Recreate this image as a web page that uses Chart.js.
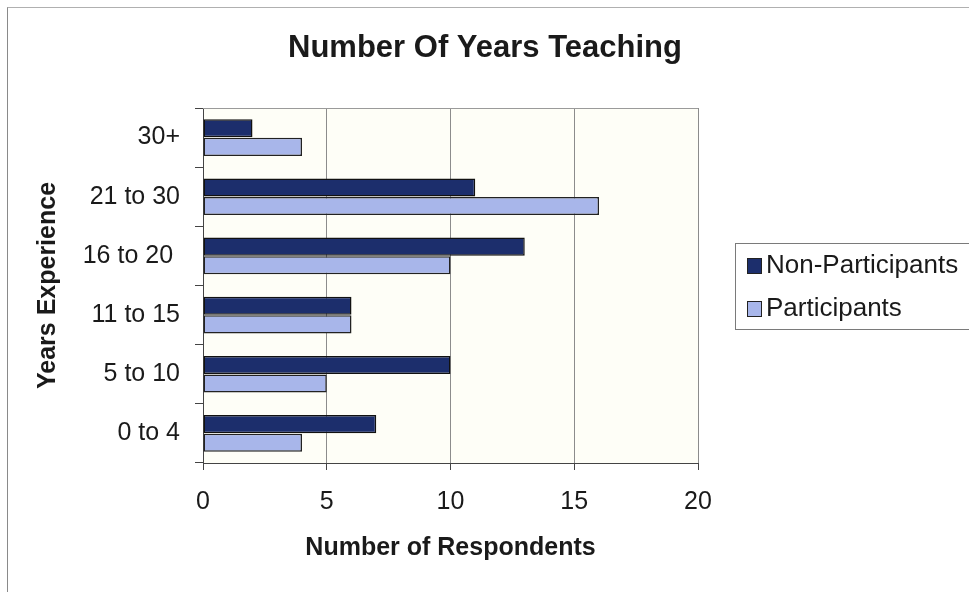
<!DOCTYPE html>
<html>
<head>
<meta charset="utf-8">
<title>Number Of Years Teaching</title>
<script src="https://cdn.jsdelivr.net/npm/chart.js@4/dist/chart.umd.min.js"></script>
<style>
  html, body { margin: 0; padding: 0; background: #fff; }
  .wrap { position: relative; width: 969px; height: 592px; overflow: hidden; }
  .frame {
    position: absolute; left: 7px; top: 7px; width: 1000px; height: 600px;
    border-left: 1px solid #8a8a8a; border-top: 1px solid #b0b0b0;
  }
  #chart { position: absolute; left: 0; top: 0; }
</style>
</head>
<body>
<div class="wrap">
  <div class="frame"></div>
  <canvas id="chart" width="969" height="592"></canvas>
</div>
<script>
const categories = ['30+', '21 to 30', '16 to 20 ', '11 to 15', '5 to 10', '0 to 4'];
const nonParticipants = [2, 11, 13, 6, 10, 7];
const participants = [4, 16, 10, 6, 5, 4];
const seriesNames = ['Non-Participants', 'Participants'];
const chartTitle = 'Number Of Years Teaching';
const xMax = 20;
const xStep = 5;

const FONT = "'Liberation Sans', Arial, sans-serif";
const DARK = '#1c2e6c';
const LIGHT = '#a8b6ea';

// cream plot background plus the grey top edge of the plot
const plotFrame = {
  id: 'plotFrame',
  beforeDraw(chart) {
    const { ctx, chartArea: a } = chart;
    ctx.save();
    ctx.fillStyle = '#fefef7';
    ctx.fillRect(a.left, a.top, a.right - a.left, a.bottom - a.top);
    ctx.restore();
  },
  afterDraw(chart) {
    const { ctx, chartArea: a } = chart;
    ctx.save();
    ctx.strokeStyle = '#9a9a9a';
    ctx.lineWidth = 1;
    ctx.beginPath();
    ctx.moveTo(a.left, a.top + 0.5);
    ctx.lineTo(a.right, a.top + 0.5);
    ctx.stroke();
    ctx.restore();
  }
};

// title sits centred over plot + legend, not just the plot
const pageTitle = {
  id: 'pageTitle',
  afterDraw(chart) {
    const { ctx } = chart;
    ctx.save();
    ctx.font = 'bold 31px ' + FONT;
    ctx.fillStyle = '#1a1a1a';
    ctx.textAlign = 'center';
    ctx.textBaseline = 'middle';
    ctx.fillText(chartTitle, 485, 48);
    ctx.restore();
  }
};

// boxed legend on the right, running off the edge of the page
const boxLegend = {
  id: 'boxLegend',
  afterDraw(chart) {
    const { ctx } = chart;
    ctx.save();
    ctx.strokeStyle = '#7a7a7a';
    ctx.lineWidth = 1;
    ctx.strokeRect(735.5, 243.5, 260, 86);
    ctx.font = '26px ' + FONT;
    ctx.textBaseline = 'middle';
    chart.data.datasets.forEach((ds, i) => {
      const y = 266 + i * 43;
      ctx.fillStyle = ds.backgroundColor;
      ctx.fillRect(747, y - 8, 15, 16);
      ctx.strokeStyle = '#222';
      ctx.strokeRect(747.5, y - 7.5, 14, 15);
      ctx.fillStyle = '#1a1a1a';
      ctx.fillText(ds.label, 766, y);
    });
    ctx.restore();
  }
};

new Chart(document.getElementById('chart'), {
  type: 'bar',
  data: {
    labels: categories,
    datasets: [
      {
        label: seriesNames[0],
        data: nonParticipants,
        backgroundColor: DARK,
        borderColor: '#111',
        borderWidth: 1.5,
        borderSkipped: false,
        categoryPercentage: 0.63,
        barPercentage: 0.97
      },
      {
        label: seriesNames[1],
        data: participants,
        backgroundColor: LIGHT,
        borderColor: '#222',
        borderWidth: 1.5,
        borderSkipped: false,
        categoryPercentage: 0.63,
        barPercentage: 0.97
      }
    ]
  },
  options: {
    indexAxis: 'y',
    responsive: false,
    animation: false,
    layout: { padding: { left: 33, right: 271, top: 108, bottom: 29 } },
    plugins: {
      legend: { display: false },
      tooltip: { enabled: false },
      title: { display: false }
    },
    scales: {
      x: {
        min: 0,
        max: xMax,
        ticks: {
          stepSize: xStep,
          color: '#1a1a1a',
          font: { family: FONT, size: 25 },
          padding: 17
        },
        grid: { color: '#8c8c8c', lineWidth: 1, tickLength: 7, tickColor: '#444' },
        border: { color: '#444', width: 1 },
        title: {
          display: true,
          text: 'Number of Respondents',
          color: '#1a1a1a',
          font: { family: FONT, size: 25, weight: 'bold' },
          padding: 0
        },
        afterFit(scale) { scale.height = 100; }
      },
      y: {
        ticks: {
          color: '#1a1a1a',
          font: { family: FONT, size: 25 },
          padding: 15
        },
        grid: { drawOnChartArea: false, tickLength: 8, color: '#444', offset: true },
        border: { color: '#444', width: 1 },
        title: {
          display: true,
          text: 'Years Experience',
          color: '#1a1a1a',
          font: { family: FONT, size: 25, weight: 'bold' },
          padding: 0
        },
        afterFit(scale) { scale.width = 170; }
      }
    }
  },
  plugins: [plotFrame, pageTitle, boxLegend]
});
</script>
</body>
</html>
